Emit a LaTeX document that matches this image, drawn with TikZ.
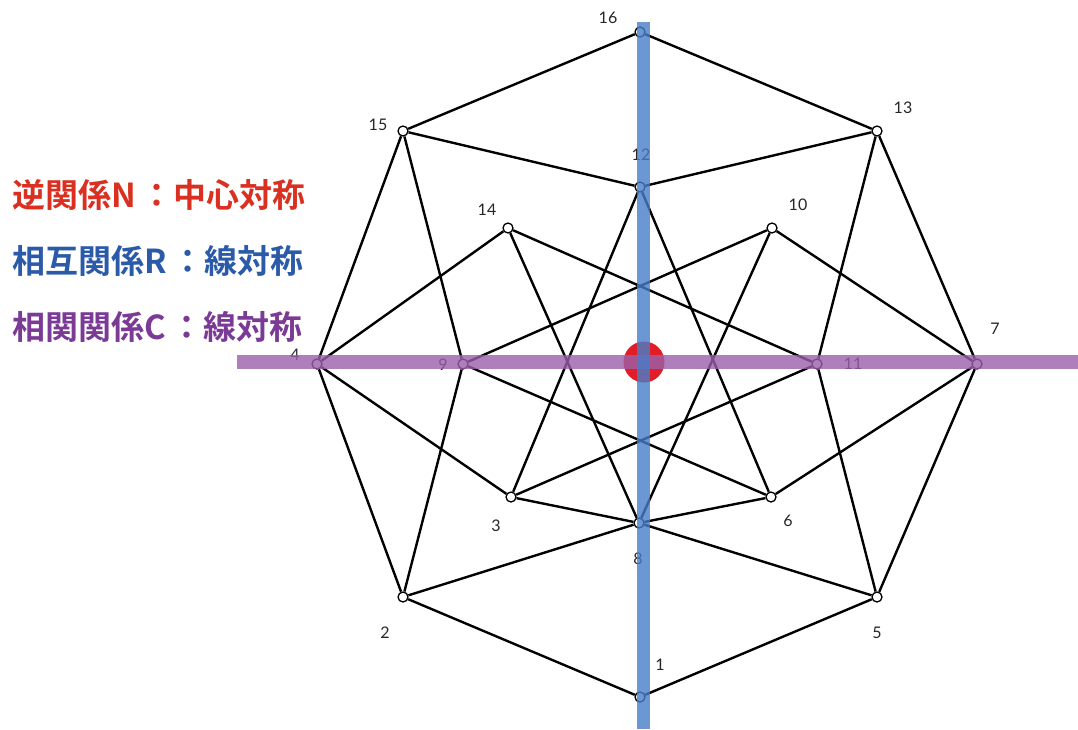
\documentclass[tikz,border=0pt]{standalone}
\usepackage{fontspec}
\setmainfont{Lato}
\newfontfamily\jpfont{Noto Sans CJK JP}[BoldFont={Noto Sans CJK JP Bold}]
\definecolor{nred}{RGB}{217,48,33}
\definecolor{rblue}{RGB}{42,90,168}
\definecolor{cpurple}{RGB}{122,58,150}
\definecolor{rbar}{RGB}{70,125,200}
\definecolor{cbar}{RGB}{155,95,170}
\definecolor{ndot}{RGB}{225,30,40}
\begin{document}
\begin{tikzpicture}[x=1pt,y=-1pt,
  vert/.style={circle,draw,fill=white,line width=1.3pt,inner sep=0pt,minimum size=10pt},
  lbl/.style={inner sep=0pt,text=black!85,font=\fontsize{16}{16}\selectfont},
  edge/.style={line width=2.4pt},
  legend/.style={anchor=west,inner sep=0pt,font=\jpfont\bfseries\fontsize{33}{33}\selectfont}]
\useasboundingbox (0,0) rectangle (1078,729);
% vertices
\node[vert] (v16) at (640,32) {};
\node[vert] (v15) at (403,131) {};
\node[vert] (v13) at (877,131) {};
\node[vert] (v12) at (640,187) {};
\node[vert] (v14) at (508,228) {};
\node[vert] (v10) at (772,228) {};
\node[vert] (v4) at (317,364) {};
\node[vert] (v9) at (463,364) {};
\node[vert] (v11) at (817,364) {};
\node[vert] (v7) at (977,364) {};
\node[vert] (v3) at (511,497) {};
\node[vert] (v6) at (771,497) {};
\node[vert] (v8) at (639,523) {};
\node[vert] (v2) at (403,597) {};
\node[vert] (v5) at (877,597) {};
\node[vert] (v1) at (640,697) {};
% edges
\draw[edge] (v16) -- (v15) -- (v4) -- (v2) -- (v1) -- (v5) -- (v7) -- (v13) -- (v16);
\draw[edge] (v15) -- (v12) -- (v13);
\draw[edge] (v15) -- (v9) -- (v2);
\draw[edge] (v13) -- (v11) -- (v5);
\draw[edge] (v2) -- (v8) -- (v5);
\draw[edge] (v4) -- (v14) -- (v11) -- (v3) -- (v4);
\draw[edge] (v7) -- (v10) -- (v9) -- (v6) -- (v7);
\draw[edge] (v12) -- (v3) -- (v8) -- (v6) -- (v12);
\draw[edge] (v14) -- (v8) -- (v10);
% labels
\node[lbl] (l16) at (608,18) {16};
\node[lbl] (l15) at (378,125) {15};
\node[lbl] (l13) at (903,108) {13};
\node[lbl] (l12) at (641,155) {12};
\node[lbl] (l14) at (487,210) {14};
\node[lbl] (l10) at (798,205) {10};
\node[lbl] (l4) at (295,355) {4};
\node[lbl] (l9) at (443,365) {9};
\node[lbl] (l11) at (853,364) {11};
\node[lbl] (l7) at (995,329) {7};
\node[lbl] (l3) at (496,526) {3};
\node[lbl] (l6) at (788,521) {6};
\node[lbl] (l8) at (638,559) {8};
\node[lbl] (l2) at (385,633) {2};
\node[lbl] (l5) at (877,633) {5};
\node[lbl] (l1) at (660,665) {1};
% symmetry marks
\fill[ndot] (644,362) circle (20.5);
\fill[cbar,opacity=.8] (237,355) rectangle (1078,369);
\fill[rbar,opacity=.8] (637,22) rectangle (650,729);
% legend
\node[legend,text=nred] (tN) at (12,195) {逆関係N\hspace{5pt}：中心対称};
\node[legend,text=rblue] (tR) at (12,261) {相互関係R\hspace{5pt}：線対称};
\node[legend,text=cpurple] (tC) at (12,327) {相関関係C\hspace{5pt}：線対称};
\end{tikzpicture}
\end{document}
